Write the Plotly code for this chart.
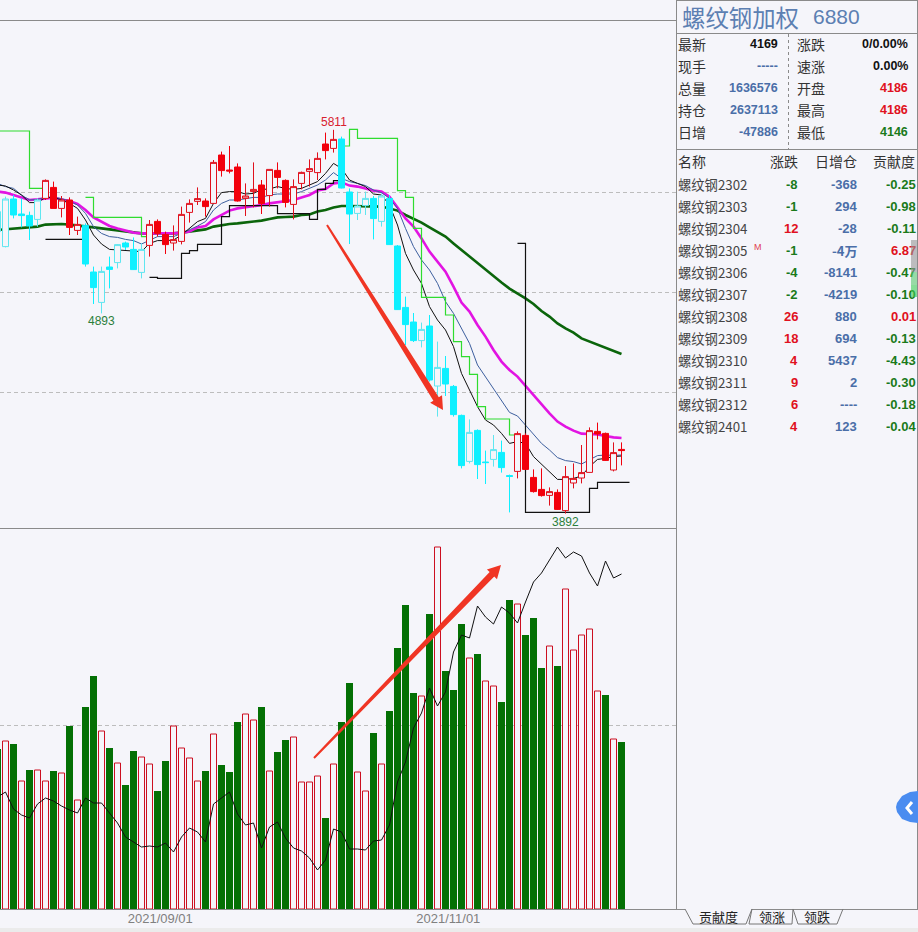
import numpy as np
import plotly.graph_objects as go

W, H = 918, 932
CJK = 'Noto Sans CJK SC'
NUM = 'Liberation Sans'
BG = '#f5f5fa'

# daily bars, index -1 is the one cut off at the left edge
idx = list(range(-1, 78))
candle_open = [5302,5227,5465,5390,5383,5363,5468,5523,5418,5460,5308,5333,5100,4948,5125,5147,5245,5213,5098,5233,
               5353,5288,5245,5253,5398,5453,5455,5443,5685,5610,5625,5468,5502,5535,5482,5608,5558,5438,5543,5603,
               5597,5740,5718,5765,5500,5393,5432,5468,5353,5468,5230,4923,4850,4757,4830,4530,4618,4528,4383,4153,
               4308,4150,4163,4198,4082,4103,4283,4073,4013,3983,3998,3907,4045,4070,4098,4303,4293,4110,4213]
candle_close = [5402,5465,5385,5382,5330,5460,5558,5418,5460,5323,5338,5140,5022,5103,5113,5237,5225,5112,5213,5338,
                5293,5237,5262,5388,5443,5467,5427,5648,5607,5605,5455,5480,5513,5442,5613,5573,5448,5527,5598,5617,
                5668,5707,5763,5520,5390,5430,5468,5367,5480,5237,4912,4837,4757,4813,4560,4623,4540,4387,4132,4298,
                4137,4147,4212,4122,4078,4292,4113,4002,3982,4002,3913,4077,4068,4097,4307,4290,4158,4197,4207]
candle_high = [5410,5477,5485,5468,5402,5468,5563,5552,5480,5473,5377,5343,5127,5127,5177,5240,5252,5273,5243,5360,
               5363,5302,5333,5427,5463,5523,5468,5660,5702,5730,5643,5543,5648,5560,5613,5648,5563,5563,5602,5663,
               5698,5797,5811,5777,5518,5502,5502,5480,5493,5485,5235,4977,4895,4847,4885,4752,4680,4535,4387,4363,
               4313,4207,4285,4257,4087,4303,4293,4113,4118,4023,4013,4130,4143,4235,4323,4347,4297,4248,4248]
candle_low = [5277,5223,5368,5323,5260,5327,5460,5418,5373,5285,5285,5127,4940,4893,5018,5118,5210,5110,5068,5177,
              5277,5190,5207,5238,5347,5435,5377,5440,5577,5593,5452,5380,5423,5390,5427,5518,5423,5363,5513,5527,
              5560,5663,5697,5518,5240,5360,5385,5263,5327,5235,4910,4735,4750,4723,4552,4377,4480,4377,4118,4143,
              4065,4040,4127,4097,3898,4068,4110,3997,3977,3932,3910,3892,4018,4043,4097,4263,4155,4103,4133]
candle_colour = 'ccccccrrrr' 'rccccccccr' 'rrrrrrrrrr' 'rrrrrrrrrr' 'rrrccccccc' 'cccccccccc' 'cccccrrrrr' 'rrrrrrrrr'

ma_black = [5535,5530,5510,5485,5447,5447,5473,5473,5460,5443,5418,5360,5285,5240,5213,5210,5207,5205,5202,5243,
            5257,5257,5260,5285,5318,5352,5368,5443,5497,5502,5502,5490,5493,5513,5515,5527,5518,5513,5518,5535,
            5552,5593,5643,5618,5560,5543,5527,5490,5485,5435,5335,5193,5110,5043,4927,4860,4810,4727,4593,4510,
            4427,4360,4335,4293,4243,4252,4243,4177,4140,4102,4063,4063,4068,4080,4127,4163,4168,4177,4180]
ma_blue = [5543,5527,5518,5485,5460,5463,5473,5473,5467,5455,5435,5393,5327,5293,5277,5273,5263,5257,5240,5257,
           5277,5277,5277,5293,5310,5330,5352,5410,5443,5460,5460,5468,5473,5473,5485,5490,5490,5490,5502,5518,
           5535,5560,5597,5568,5552,5543,5532,5510,5497,5468,5418,5318,5227,5160,5110,5043,4952,4893,4818,4743,
           4635,4577,4518,4460,4398,4380,4335,4285,4243,4210,4172,4157,4152,4140,4160,4182,4185,4183,4185]
ma_magenta = [5502,5497,5485,5472,5460,5463,5468,5472,5463,5455,5440,5410,5373,5352,5330,5318,5307,5297,5293,5293,
              5293,5293,5293,5297,5302,5323,5330,5363,5385,5407,5418,5423,5430,5435,5443,5448,5455,5460,5473,5485,
              5507,5515,5543,5548,5532,5527,5518,5507,5502,5477,5423,5368,5327,5268,5202,5152,5102,5027,4947,4902,
              4835,4777,4710,4652,4610,4577,4530,4485,4435,4393,4352,4327,4307,4292,4290,4288,4280,4273,4270]
ma_green = [5310,5313,5318,5322,5322,5327,5337,5338,5340,5337,5333,5330,5323,5318,5313,5308,5303,5297,5293,5293,
            5293,5293,5293,5297,5302,5310,5313,5327,5335,5340,5343,5347,5352,5357,5365,5373,5375,5377,5385,5388,
            5402,5410,5423,5430,5430,5430,5430,5430,5427,5418,5407,5385,5368,5347,5323,5298,5277,5243,5210,5180,
            5143,5110,5077,5047,5017,4993,4968,4940,4905,4877,4843,4818,4797,4768,4752,4738,4723,4707,4690]

# stop lines run one bar further than the candles, None where the line is off
step_idx = list(range(-1, 79))
step_green = [5805]*4 + [5518]*3 + [None]*4 + [5473] + [5373]*6 + [5277]*2 + [None]*23 + [5730, 5813] + [5768]*5 + \
    [5507, 5473, 5318] + [4973]*3 + [4885, 4752, 4677, 4588, 4427] + [4365]*3 + [4285]*2 + [None]*14
step_black = [None]*6 + [5263]*6 + [None]*7 + [5073] + [5068]*3 + [5193, 5207] + [5238]*3 + [5377] + [5432]*6 + \
    [5392]*4 + [5363, 5513, 5543, 5557, 5557] + [None]*21 + [5243] + [3898]*8 + [4018] + [4048]*5

volume = [160,168,165,128,139,139,128,138,136,183,109,202,233,178,161,146,124,158,152,145,
          118,148,183,161,151,128,138,175,144,137,187,195,189,202,138,157,169,172,127,127,
          133,91,145,187,226,137,118,176,145,198,261,304,216,213,295,362,238,219,285,251,
          255,228,223,207,309,305,274,291,241,263,243,320,259,274,280,218,214,170,167]
volume_colour = 'grgrgrrgrg' 'rggrgrggrr' 'ggrrrrgrgg' 'grrgrggrrr' 'rgrggrrgrg' 'gggrgrgggr' 'grrggrgggr' 'grrrrrgrg'
open_interest = [241.4,241.9,240.2,239.6,239.3,240.7,241.3,241.0,240.5,240.1,239.8,241.3,240.8,240.8,239.8,238.8,237.4,236.9,236.4,236.5,
                 236.4,236.8,235.9,237.4,238.3,237.9,236.9,240.7,241.3,241.9,239.7,238.6,238.8,236.3,238.4,238.9,237.3,236.3,236.0,235.3,
                 234.1,235.1,238.2,237.9,236.2,236.2,236.1,237.0,237.1,238.6,242.9,244.9,248.3,249.8,252.3,250.5,251.9,255.9,257.6,257.3,
                 260.5,259.4,258.7,260.4,259.8,258.8,260.9,262.9,263.8,265.1,266.4,265.3,265.9,265.5,263.8,262.5,265.0,263.3,263.7]

date_ticks = [19.35, 55.35]
date_labels = ['2021/09/01', '2021/11/01']

quote_left = [('最新', '4169', '#111111'), ('现手', '-----', '#4a6ea8'), ('总量', '1636576', '#4a6ea8'),
              ('持仓', '2637113', '#4a6ea8'), ('日增', '-47886', '#4a6ea8')]
quote_right = [('涨跌', '0/0.00%', '#111111'), ('速涨', '0.00%', '#111111'), ('开盘', '4186', '#e01020'),
               ('最高', '4186', '#e01020'), ('最低', '4146', '#1a7a1a')]
contract_names = ['螺纹钢2302','螺纹钢2303','螺纹钢2304','螺纹钢2305','螺纹钢2306','螺纹钢2307',
                  '螺纹钢2308','螺纹钢2309','螺纹钢2310','螺纹钢2311','螺纹钢2312','螺纹钢2401']
contract_change = [-8, -1, 12, -1, -4, -2, 26, 18, 4, 9, 6, 4]
contract_oi = ['-368', '294', '-28', '-4万', '-8141', '-4219', '880', '694', '5437', '2', '----', '123']
contract_share = [-0.25, -0.98, -0.11, 6.87, -0.47, -0.10, 0.01, -0.13, -4.43, -0.30, -0.18, -0.04]


def px(x):
    return x / W


def py(y):
    return 1 - y / H


def pick(values, flags, flag):
    return [v for v, f in zip(values, flags) if f == flag]


fig = go.Figure()

# moving averages sit under the candles
for vals, colour, width in [(ma_green, '#0b650b', 2.6), (ma_magenta, '#e214e2', 2.6),
                            (ma_blue, '#3d5f9e', 1), (ma_black, '#111111', 1)]:
    fig.add_trace(go.Scatter(x=idx, y=vals, mode='lines', line=dict(color=colour, width=width), yaxis='y'))
fig.add_trace(go.Scatter(x=step_idx, y=step_green, mode='lines', line=dict(color='#2fdc2f', width=1.2, shape='hv'), yaxis='y'))
fig.add_trace(go.Scatter(x=step_idx, y=step_black, mode='lines', line=dict(color='#111111', width=1.2, shape='hv'), yaxis='y'))

for flag, line_col, solid_col in [('c', '#5fe6f0', '#0ff0ff'), ('r', '#e0101c', '#f2000c')]:
    fig.add_trace(go.Candlestick(
        x=pick(idx, candle_colour, flag),
        open=pick(candle_open, candle_colour, flag),
        high=pick(candle_high, candle_colour, flag),
        low=pick(candle_low, candle_colour, flag),
        close=pick(candle_close, candle_colour, flag),
        whiskerwidth=0,
        increasing=dict(line=dict(color=line_col, width=1), fillcolor=BG),
        decreasing=dict(line=dict(color=solid_col, width=1), fillcolor=solid_col),
        yaxis='y3'))

fig.add_trace(go.Bar(x=pick(idx, volume_colour, 'g'), y=pick(volume, volume_colour, 'g'), width=0.875,
                     marker=dict(color='#047004', line_width=0), yaxis='y2'))
fig.add_trace(go.Bar(x=pick(idx, volume_colour, 'r'), y=pick(volume, volume_colour, 'r'), width=0.75,
                     marker=dict(color=BG, line=dict(color='#cc0f20', width=1)), yaxis='y2'))
fig.add_trace(go.Scatter(x=idx, y=open_interest, mode='lines', line=dict(color='#111111', width=1), yaxis='y4'))

shapes = []


def hline(y, x0=0, x1=W, color='#8a8a8a', dash=None):
    shapes.append(dict(type='line', xref='paper', yref='paper', x0=px(x0), x1=px(x1), y0=py(y), y1=py(y),
                       line=dict(color=color, width=1, dash=dash)))


def vline(x, y0, y1, color='#8a8a8a', dash=None):
    shapes.append(dict(type='line', xref='paper', yref='paper', x0=px(x), x1=px(x), y0=py(y0), y1=py(y1),
                       line=dict(color=color, width=1, dash=dash)))


def poly(points, fill=None, color=None, width=1, close=True):
    d = 'M' + ' L'.join(f'{px(x):.5f},{py(y):.5f}' for x, y in points) + (' Z' if close else '')
    shapes.append(dict(type='path', xref='paper', yref='paper', path=d, fillcolor=fill,
                       line=dict(color=color if color else 'rgba(0,0,0,0)', width=width)))


def arrow(x0, y0, x1, y1):
    # tapered hand drawn arrow
    a, b = np.array([x0, y0], float), np.array([x1, y1], float)
    d = (b - a) / np.linalg.norm(b - a)
    n = np.array([-d[1], d[0]])
    neck = b - d * 13
    pts = [a + n * 1.0, neck + n * 3.2, neck + n * 7, b, neck - n * 7, neck - n * 3.2, a - n * 1.0]
    poly([tuple(p) for p in pts], fill='#f03524')


arrow(327, 225, 443, 410)
arrow(314, 758, 501, 565)

# frame
hline(20.5, 0, 676)
hline(528.5, 0, 676)
hline(909.5, 0, 685)
hline(909.5, 752, 918)
vline(676.5, 0, 909)
vline(917.5, 0, 909)
hline(33.5, 676, 918)
hline(149.5, 676, 918)
hline(0.5, 676, 918)
vline(788.5, 34, 149, dash='3px,3px')
shapes.append(dict(type='rect', xref='paper', yref='paper', x0=0, x1=1, y0=0, y1=py(928),
                   fillcolor='#ebebeb', line_width=0, layer='below'))

# tabs under the right hand panel
poly([(685, 909), (693, 924), (746, 924), (752, 909)], color='#777777', close=False)
poly([(752, 909), (749, 924), (792, 924), (793, 909)], color='#777777', close=False)
poly([(793, 909), (798, 924), (837, 924), (843, 909)], color='#777777', close=False)

# blue side button
poly([(918, 791), (910, 792), (902, 796), (897, 803), (896, 807), (897, 812), (902, 819), (910, 822), (918, 823)],
     fill='#4a8cf0')
poly([(912, 802), (907, 808), (912, 814)], color='white', width=3, close=False)

anns = []


def text(x, y, s, size=14, color='#333333', family=CJK, align='left', bold=False):
    # annotations carry about a pixel of slack on each side
    x += {'left': -2, 'right': 1, 'center': 0}[align]
    anns.append(dict(xref='paper', yref='paper', x=px(x), y=py(y - 1), text=f'<b>{s}</b>' if bold else s,
                     showarrow=False, xanchor=align, yanchor='middle', borderpad=0,
                     font=dict(size=size, color=color, family=family)))


text(683, 18, '螺纹钢加权', size=23.4, color='#5c7fb2')
text(814, 18, '6880', size=21, color='#5c7fb2', family=NUM)

row_y = [45, 67, 89, 111, 133]
for y, (lab, val, col) in zip(row_y, quote_left):
    text(679, y, lab)
    text(778, y, val, size=12.5, color=col, family=NUM, align='right', bold=True)
for y, (lab, val, col) in zip(row_y, quote_right):
    text(798, y, lab)
    text(908, y, val, size=12.5, color=col, family=NUM, align='right', bold=True)

text(679, 162, '名称')
text(798, 162, '涨跌', align='right')
text(857, 162, '日增仓', align='right')
text(915, 162, '贡献度', align='right')

for j, name in enumerate(contract_names):
    y = 185.5 + 22 * j
    chg = contract_change[j]
    share = contract_share[j]
    text(679, y, name, size=13.3, color='#444444')
    text(798, y, str(chg), size=13, color='#e01020' if chg > 0 else '#1a7a1a', family=NUM, align='right', bold=True)
    text(857, y, contract_oi[j], size=13, color='#4a6ea8', family=CJK if '万' in contract_oi[j] else NUM, align='right', bold=True)
    text(915.5, y, f'{share:.2f}', size=13, color='#e01020' if share > 0 else '#1a7a1a', family=NUM, align='right', bold=True)
text(755, 248, 'M', size=9, color='#e04050', family=NUM)

# scroll bar is see through, the table text shows under it
for y0, y1, col in [(240, 272, 'rgba(150,150,150,0.6)'), (272, 285, 'rgba(90,200,110,0.6)'), (285, 297, 'rgba(60,205,85,0.6)')]:
    anns.append(dict(xref='paper', yref='paper', x=px(911), y=py(y0), xanchor='left', yanchor='top', text=' ',
                     showarrow=False, bgcolor=col, width=6, height=y1 - y0, borderpad=0, borderwidth=0))

text(718, 917, '贡献度', size=13, color='#222222', align='center')
text(772, 917, '领涨', size=13, color='#222222', align='center')
text(817, 917, '领跌', size=13, color='#222222', align='center')

# high / low marks on the candles
for i_x, price, label, col, shift in [(41, 5811, '5811', '#d8202e', 8), (12, 4893, '4893', '#2b7f3a', -8),
                                      (70, 3892, '3892', '#2b7f3a', -8)]:
    anns.append(dict(xref='x', yref='y', x=i_x, y=price, text=label, showarrow=False, yshift=shift,
                     xanchor='center', yanchor='middle', font=dict(size=12, color=col, family=NUM)))

price_range = [3820, 6360]
fig.update_layout(
    width=W, height=H, margin=dict(l=0, r=0, t=0, b=0),
    paper_bgcolor=BG, plot_bgcolor=BG, showlegend=False,
    boxmode='overlay', boxgap=0.25, boxgroupgap=0, barmode='overlay', hovermode=False,
    font=dict(family=CJK),
    xaxis=dict(domain=[0, 676 / W], range=[-0.6875, 83.8125], anchor='y2', tickmode='array', tickvals=date_ticks,
               ticktext=date_labels, showgrid=False, zeroline=False, ticks='',
               rangeslider=dict(visible=False), tickfont=dict(size=13, color='#808080', family=NUM)),
    yaxis=dict(domain=[py(528), py(20)], range=price_range, tickvals=[4500, 5000, 5500], showticklabels=False,
               gridcolor='#bdbdbd', griddash='4px,3px', gridwidth=1, zeroline=False, anchor='x'),
    yaxis3=dict(domain=[py(528), py(20)], range=price_range, overlaying='y', showticklabels=False, showgrid=False,
                zeroline=False, anchor='x'),
    yaxis2=dict(domain=[py(909), py(528)], range=[0, 381], tickvals=[184], showticklabels=False,
                gridcolor='#bdbdbd', griddash='4px,3px', gridwidth=1, zeroline=False, anchor='x'),
    yaxis4=dict(domain=[py(909), py(528)], range=[230.2, 268.3], overlaying='y2', showticklabels=False, showgrid=False,
                zeroline=False, anchor='x'),
    shapes=shapes, annotations=anns,
)

fig.write_html("out.html", config=dict(displayModeBar=False),
               post_script="document.body.style.margin='0';document.body.style.background='#f5f5fa';")
